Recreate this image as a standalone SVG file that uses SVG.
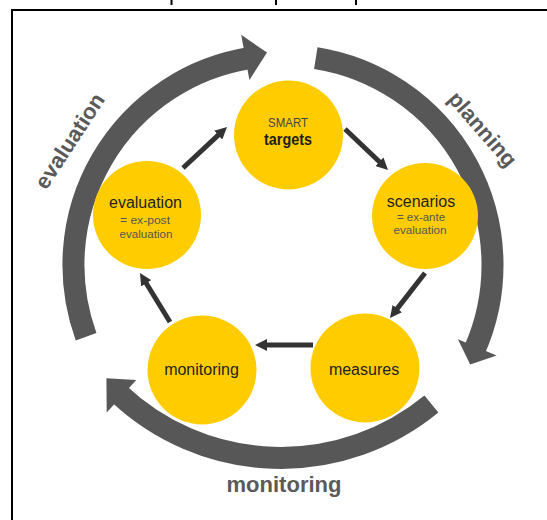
<svg xmlns="http://www.w3.org/2000/svg" width="547" height="520" viewBox="0 0 547 520">
<defs>
<style>
.ring{fill:none;stroke:#575757;stroke-width:22;stroke-linecap:butt}
.head{fill:#575757}
.node{fill:#FFCC00}
.lbl{font-family:"Liberation Sans",Arial,sans-serif;fill:#231f20;text-anchor:middle}
.main{font-size:16px}
.sub{font-size:11px;fill:#555}
.outer{font-family:"Liberation Sans",Arial,sans-serif;font-size:22px;font-weight:bold;fill:#5a5a5a;text-anchor:middle}
.conn{stroke:#333;stroke-width:5;fill:none}
.frame{stroke:#000;stroke-width:2;fill:none}
</style>
<marker id="ah" markerUnits="userSpaceOnUse" markerWidth="12" markerHeight="12" viewBox="0 0 12 12" refX="3" refY="6" orient="auto">
<path d="M0,0 L12,6 L0,12 z" fill="#333"/>
</marker>
</defs>
<rect width="547" height="520" fill="#fff"/>
<g id="frame">
<path class="frame" d="M12,520 V10 H547"/>
<path class="frame" d="M171.5,0 V5 M276,0 V5 M356,0 V5"/>
</g>
<g id="cycle-arrows">
<path class="ring" d="M86.1,336.7 A209.5,209.5 0 0 1 249.1,58.2"/>
<polygon class="head" points="241.2,34.8 267,52.6 249.4,80"/>
<path class="ring" d="M315.8,58.1 A209.5,209.5 0 0 1 474.4,350.2"/>
<polygon class="head" points="457.9,339.2 470.2,364.5 496.6,355.6"/>
<path class="ring" d="M431.4,404.1 A237,237 0 0 1 118.5,393.5"/>
<polygon class="head" points="136.3,380 106.4,378.2 106.7,412.6"/>
<text class="outer" transform="translate(76,145) rotate(-57)">evaluation</text>
<text class="outer" transform="translate(477,134) rotate(49)">planning</text>
<text class="outer" x="284" y="492">monitoring</text>
</g>
<g id="connectors">
<line class="conn" x1="183" y1="168" x2="220.4" y2="133.1" marker-end="url(#ah)"/>
<line class="conn" x1="345" y1="129" x2="381.5" y2="163.8" marker-end="url(#ah)"/>
<line class="conn" x1="425" y1="273" x2="395.5" y2="310.9" marker-end="url(#ah)"/>
<line class="conn" x1="313" y1="345" x2="264" y2="345" marker-end="url(#ah)"/>
<line class="conn" x1="170" y1="322" x2="144.7" y2="280.7" marker-end="url(#ah)"/>
</g>
<g id="node-targets">
<circle class="node" cx="288.5" cy="135" r="54.5"/>
<text class="lbl sub" x="288" y="127" textLength="40" lengthAdjust="spacingAndGlyphs" style="font-size:13px;fill:#444">SMART</text>
<text class="lbl main" x="288" y="145" textLength="48" lengthAdjust="spacingAndGlyphs" style="font-weight:bold">targets</text>
</g>
<g id="node-scenarios">
<circle class="node" cx="425" cy="216" r="53"/>
<text class="lbl main" x="421" y="207">scenarios</text>
<text class="lbl sub" x="421" y="221" textLength="48" lengthAdjust="spacingAndGlyphs">= ex-ante</text>
<text class="lbl sub" x="420" y="234" textLength="53" lengthAdjust="spacingAndGlyphs">evaluation</text>
</g>
<g id="node-measures">
<circle class="node" cx="365" cy="368" r="54.5"/>
<text class="lbl main" x="364" y="375">measures</text>
</g>
<g id="node-monitoring">
<circle class="node" cx="202" cy="370" r="54.5"/>
<text class="lbl main" x="201.5" y="375">monitoring</text>
</g>
<g id="node-evaluation">
<circle class="node" cx="147" cy="215" r="54"/>
<text class="lbl main" x="145.5" y="208">evaluation</text>
<text class="lbl sub" x="145" y="224" textLength="50" lengthAdjust="spacingAndGlyphs">= ex-post</text>
<text class="lbl sub" x="146" y="238" textLength="53" lengthAdjust="spacingAndGlyphs">evaluation</text>
</g>
</svg>
